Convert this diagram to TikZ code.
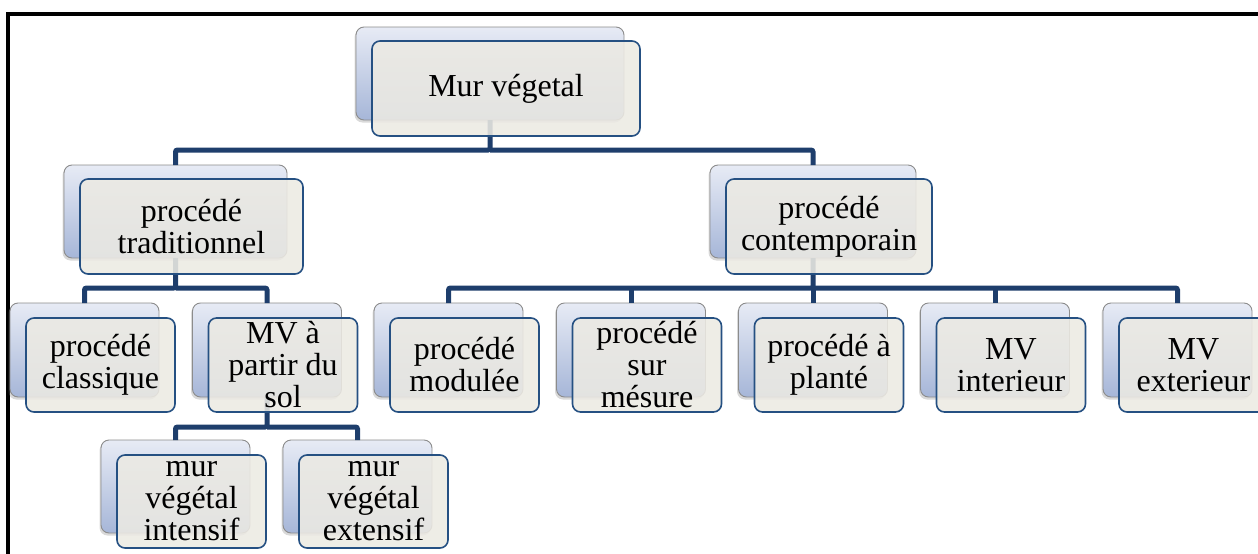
\documentclass[tikz,border=0pt]{standalone}
\usepackage{fontspec}
\setmainfont{Liberation Serif}
\usetikzlibrary{shadows}
\definecolor{backtop}{RGB}{231,235,245}
\definecolor{backbot}{RGB}{166,182,216}
\definecolor{backline}{RGB}{140,140,140}
\definecolor{frontfill}{RGB}{236,234,227}
\definecolor{frontline}{RGB}{37,80,130}
\definecolor{connline}{RGB}{30,62,108}
\tikzset{
  backbox/.style={rounded corners=8pt, draw=backline, line width=0.9pt,
    top color=backtop, bottom color=backbot, inner sep=0pt, outer sep=0pt,
    drop shadow={shadow xshift=-1.5pt, shadow yshift=-2.5pt, opacity=0.3}},
  frontbox/.style={rounded corners=8pt, draw=frontline, line width=1.6pt,
    fill=frontfill, fill opacity=0.88, text opacity=1, inner sep=0pt, outer sep=0pt,
    align=center, font=\fontsize{32}{32}\selectfont},
  conn/.style={draw=connline, line width=5pt, rounded corners=2pt},
}
% back card at (x,y), front card offset by (16,15)
\newcommand{\cardback}[5]{\node[backbox, minimum width=#4, minimum height=#5] (#1-b) at (#2,#3) {};}
\newcommand{\cardfront}[6]{\node[frontbox, minimum width=#4, minimum height=#5] (#1) at ({#2+16},{#3+15}) {#6};}
\begin{document}
\begin{tikzpicture}[x=1pt,y=-1pt]
\useasboundingbox (0,0) rectangle (1258,554);
% frame
\draw[line width=4pt] (8,560) -- (8,14) -- (1262,14);

% back cards
\cardback{mur}{490}{73.5}{268pt}{93pt}
\cardback{trad}{175.5}{211.5}{223pt}{93pt}
\cardback{cont}{813}{211.5}{206pt}{93pt}
\cardback{clas}{84.5}{350}{149pt}{94pt}
\cardback{sol}{267}{350}{149pt}{94pt}
\cardback{modu}{448.5}{350}{149pt}{94pt}
\cardback{mesu}{631}{350}{149pt}{94pt}
\cardback{plan}{813}{350}{149pt}{94pt}
\cardback{inte}{995}{350}{149pt}{94pt}
\cardback{exte}{1177.5}{350}{149pt}{94pt}
\cardback{inten}{175.5}{486.5}{149pt}{93pt}
\cardback{exten}{357.5}{486.5}{149pt}{93pt}

% connectors
\coordinate (bar1) at (490,150);
\coordinate (bar2) at (175.5,288);
\coordinate (bar3) at (813,288);
\coordinate (bar4) at (267,427);
\draw[conn] (mur-b.south) -- (bar1) -| (trad-b.north);
\draw[conn] (bar1) -| (cont-b.north);
\draw[conn] (trad-b.south) -- (bar2) -| (clas-b.north);
\draw[conn] (bar2) -| (sol-b.north);
\draw[conn] (cont-b.south) -- (bar3) -| (modu-b.north);
\draw[conn] (bar3) -| (exte-b.north);
\draw[conn] (mesu-b.north) -- (mesu-b.north |- bar3);
\draw[conn] (plan-b.north) -- (plan-b.north |- bar3);
\draw[conn] (inte-b.north) -- (inte-b.north |- bar3);
\draw[conn] (sol-b.south) -- (bar4) -| (inten-b.north);
\draw[conn] (bar4) -| (exten-b.north);

% front cards
\cardfront{mur}{490}{73.5}{268pt}{95pt}{Mur végetal}
\cardfront{trad}{175.5}{211.5}{223pt}{95pt}{procédé\\traditionnel}
\cardfront{cont}{813}{211.5}{206pt}{95pt}{procédé\\contemporain}
\cardfront{clas}{84.5}{350}{149pt}{94pt}{procédé\\classique}
\cardfront{sol}{267}{350}{149pt}{94pt}{MV à\\partir du\\sol}
\cardfront{modu}{448.5}{350}{149pt}{94pt}{procédé\\modulée}
\cardfront{mesu}{631}{350}{149pt}{94pt}{procédé\\sur\\mésure}
\cardfront{plan}{813}{350}{149pt}{94pt}{procédé à\\planté}
\cardfront{inte}{995}{350}{149pt}{94pt}{MV\\interieur}
\cardfront{exte}{1177.5}{350}{149pt}{94pt}{MV\\exterieur}
\cardfront{inten}{175.5}{486.5}{149pt}{93pt}{mur\\végétal\\intensif}
\cardfront{exten}{357.5}{486.5}{149pt}{93pt}{mur\\végétal\\extensif}
\end{tikzpicture}
\end{document}
